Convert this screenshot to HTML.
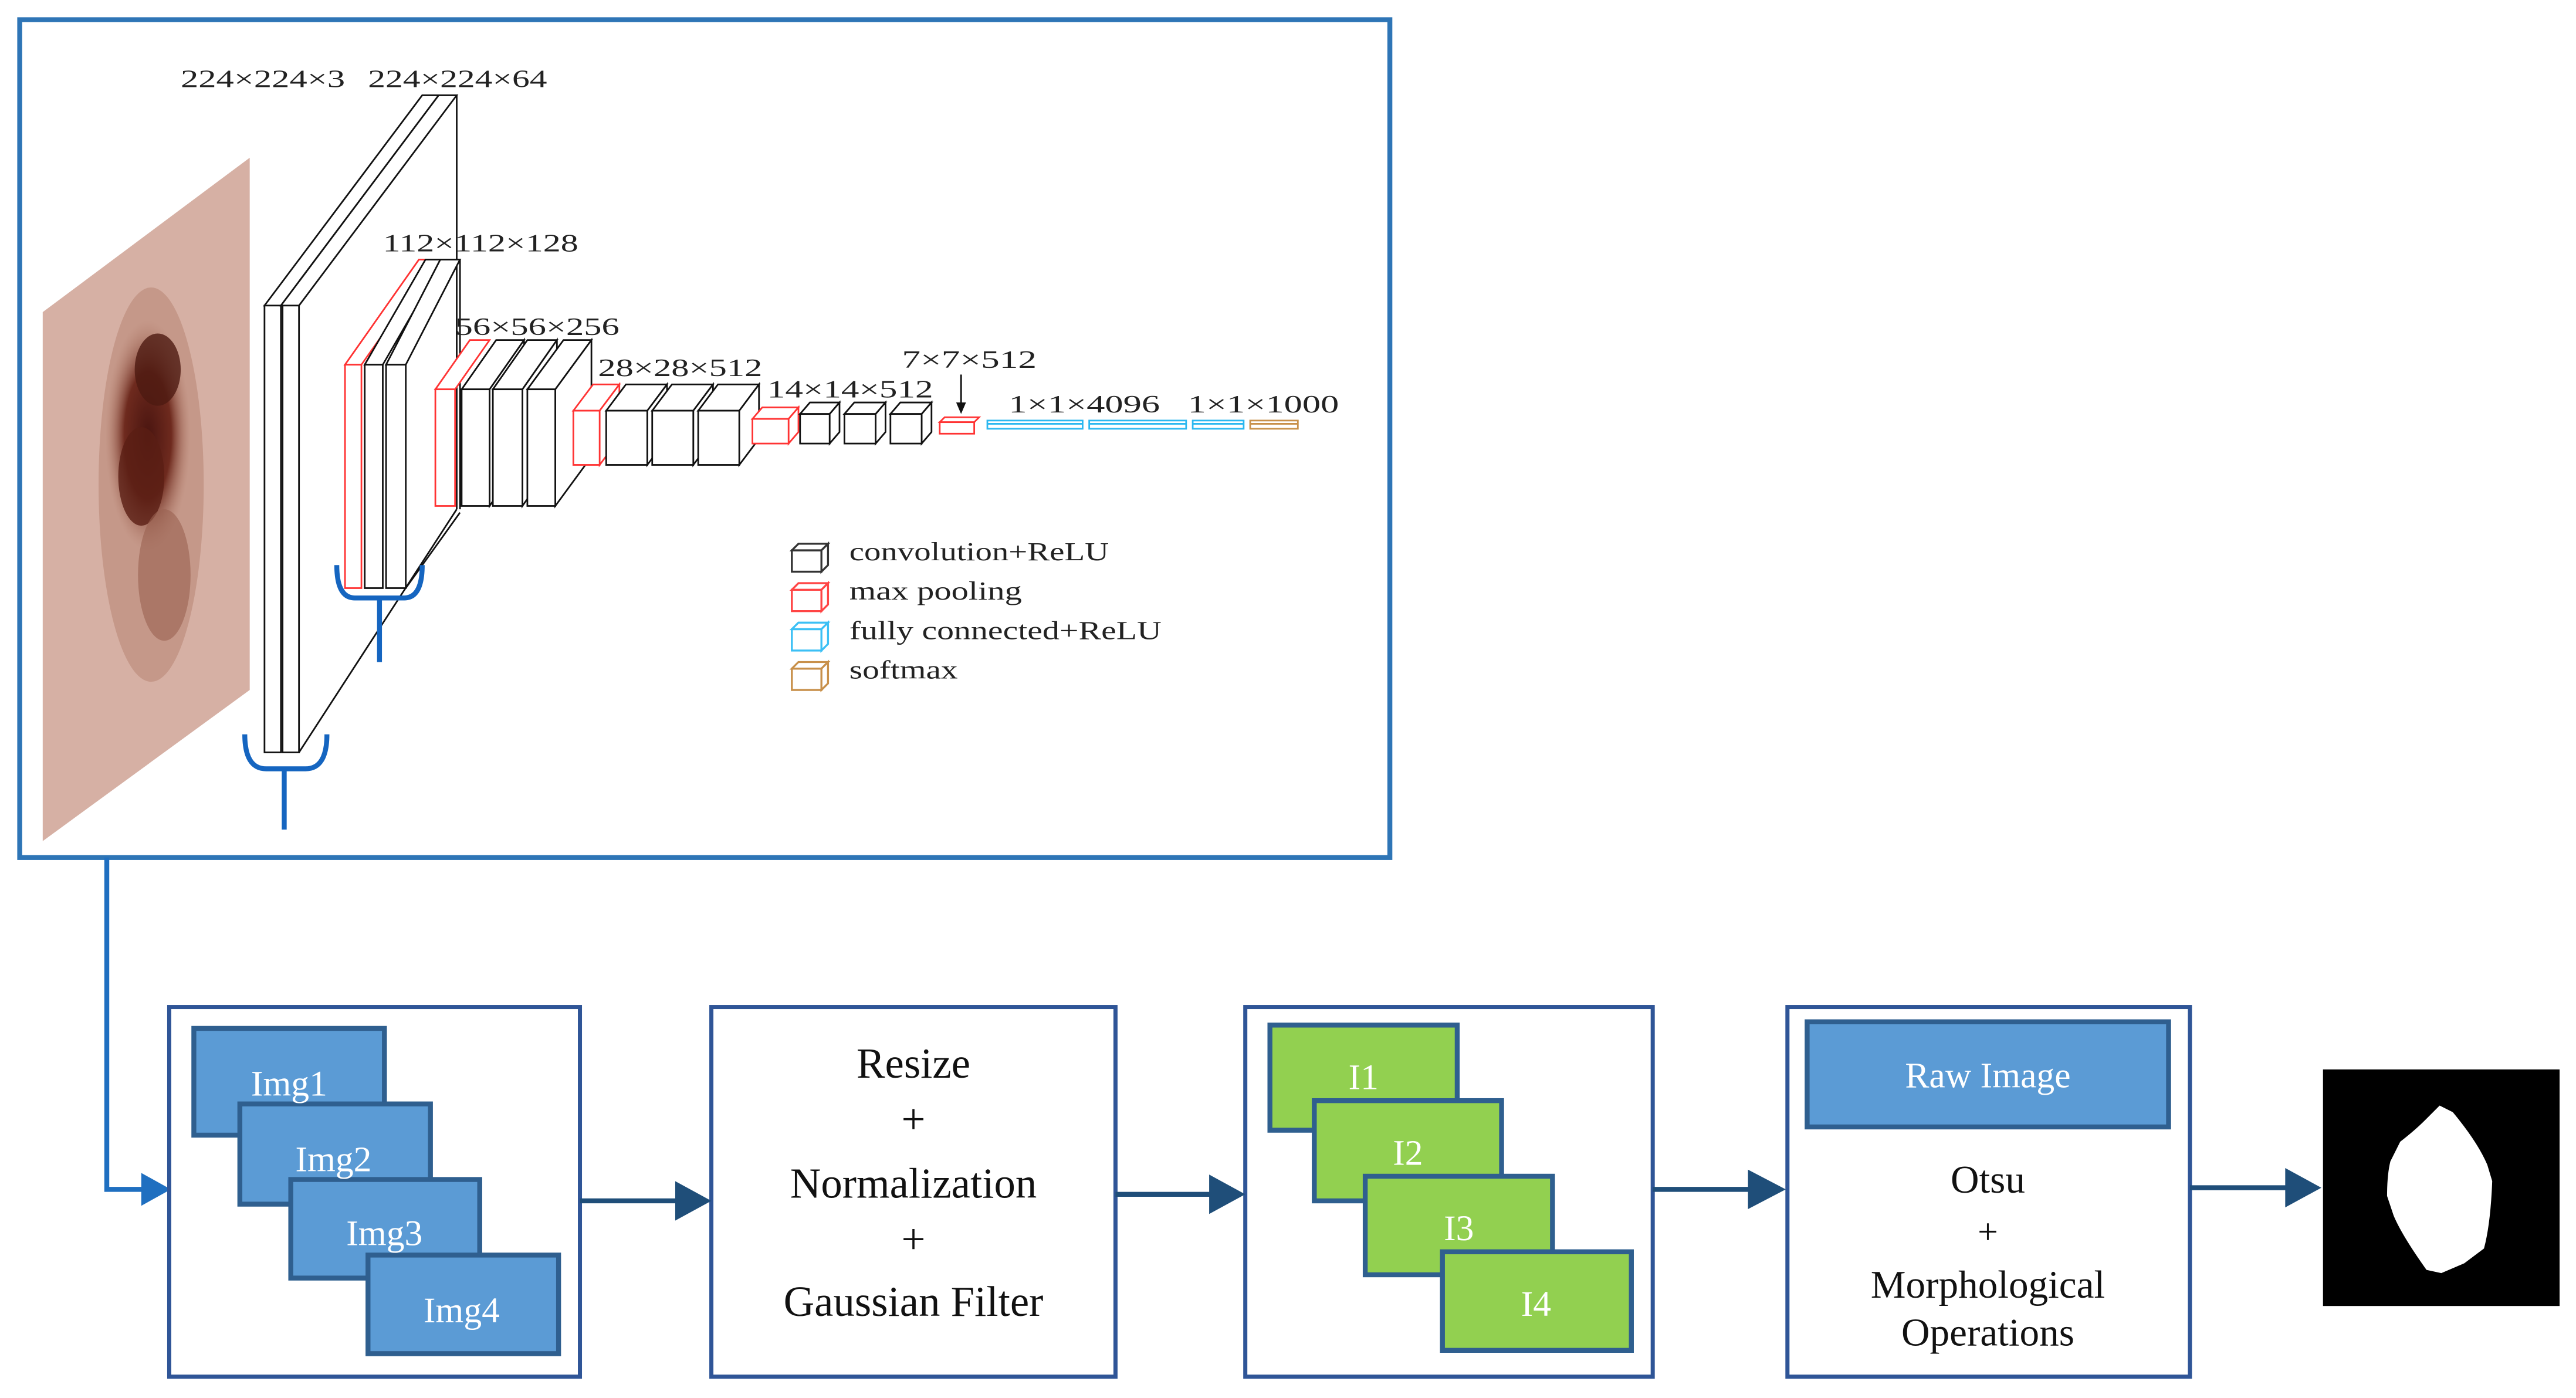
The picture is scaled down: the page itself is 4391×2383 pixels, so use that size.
<!DOCTYPE html>
<html><head><meta charset="utf-8"><style>
html,body{margin:0;padding:0;background:#fff;}
svg{display:block;}
.t{font-family:"Liberation Serif",serif;fill:#222;}
.w{font-family:"Liberation Serif",serif;fill:#fff;}
.b{font-family:"Liberation Serif",serif;fill:#111;}
</style></head><body>
<svg width="4391" height="2383" viewBox="0 0 1568 851" preserveAspectRatio="none" xmlns="http://www.w3.org/2000/svg">
<rect x="0" y="0" width="1568" height="851" fill="#fff"/>
<rect x="12" y="12" width="834" height="510" fill="#fff" stroke="#2E75B6" stroke-width="3"/>
<defs>
<radialGradient id="les" cx="0.5" cy="0.5" r="0.5">
<stop offset="0" stop-color="#4a1510"/><stop offset="0.55" stop-color="#6e2a1e"/><stop offset="1" stop-color="#b07a68" stop-opacity="0"/>
</radialGradient>
<clipPath id="sk"><polygon points="26,190 152,96 152,420 26,512"/></clipPath>
</defs>
<polygon points="26,190 152,96 152,420 26,512" fill="#d6b0a4"/>
<g clip-path="url(#sk)">
<ellipse cx="92" cy="295" rx="32" ry="120" fill="#b88573" opacity="0.55"/>
<ellipse cx="90" cy="265" rx="26" ry="70" fill="url(#les)"/>
<ellipse cx="96" cy="225" rx="14" ry="22" fill="#4e1a12" opacity="0.8"/>
<ellipse cx="86" cy="290" rx="14" ry="30" fill="#5a1e14" opacity="0.8"/>
<ellipse cx="100" cy="350" rx="16" ry="40" fill="#9a6050" opacity="0.6"/>
</g>
<g fill="none" stroke-width="1">
<g stroke="#111">
<polygon points="161,186 171,186 267,58 257,58" fill="#fff"/>
<rect x="161" y="186" width="10" height="272" fill="#fff"/>
<polygon points="171,186 182,186 278,58 267,58" fill="#fff"/>
<rect x="172" y="186" width="10" height="272" fill="#fff"/>
<line x1="278" y1="58" x2="278" y2="310"/>
<line x1="182" y1="458" x2="278" y2="310"/>
</g>
<g stroke="#111">
<line x1="280" y1="158" x2="280" y2="310"/>
<line x1="247" y1="358" x2="280" y2="312"/>
</g>
<polygon points="210,222 220,222 265,158 255,158" stroke="#f33" fill="#fff"/>
<rect x="210" y="222" width="10" height="136" stroke="#f33" fill="#fff"/>
<g stroke="#111">
<polygon points="222,222 233,222 270,158 259,158" fill="#fff"/>
<rect x="222" y="222" width="11" height="136" fill="#fff"/>
<polygon points="235,222 247,222 280,158 268,158" fill="#fff"/>
<rect x="235" y="222" width="12" height="136" fill="#fff"/>
</g>
<polygon points="265,237 277,237 298,207 286,207" stroke="#f33" fill="#fff"/>
<rect x="265" y="237" width="12" height="71" stroke="#f33" fill="#fff"/>
<g stroke="#111" fill="#fff">
<polygon points="281,237 298,237 319,207 302,207"/><polygon points="298,237 319,207 319,278 298,308"/><rect x="281" y="237" width="17" height="71"/>
<polygon points="300,237 318,237 339,207 321,207"/><polygon points="318,237 339,207 339,278 318,308"/><rect x="300" y="237" width="18" height="71"/>
<polygon points="321,237 338,237 360,207 343,207"/><polygon points="338,237 360,207 360,278 338,308"/><rect x="321" y="237" width="17" height="71"/>
</g>
<polygon points="349,250 365,250 377,234 361,234" stroke="#f33" fill="#fff"/>
<polygon points="365,250 377,234 377,267 365,283" stroke="#f33" fill="#fff"/>
<rect x="349" y="250" width="16" height="33" stroke="#f33" fill="#fff"/>
<g stroke="#111" fill="#fff">
<polygon points="369,250 394,250 406,234 381,234"/><polygon points="394,250 406,234 406,267 394,283"/><rect x="369" y="250" width="25" height="33"/>
<polygon points="397,250 422,250 434,234 409,234"/><polygon points="422,250 434,234 434,267 422,283"/><rect x="397" y="250" width="25" height="33"/>
<polygon points="425,250 450,250 462,234 437,234"/><polygon points="450,250 462,234 462,267 450,283"/><rect x="425" y="250" width="25" height="33"/>
</g>
<polygon points="458,255 480,255 486,248 464,248" stroke="#f33" fill="#fff"/>
<polygon points="480,255 486,248 486,263 480,270" stroke="#f33" fill="#fff"/>
<rect x="458" y="255" width="22" height="15" stroke="#f33" fill="#fff"/>
<g stroke="#111" fill="#fff">
<polygon points="487,252 505,252 511,245 493,245"/><polygon points="505,252 511,245 511,263 505,270"/><rect x="487" y="252" width="18" height="18"/>
<polygon points="514,252 533,252 539,245 520,245"/><polygon points="533,252 539,245 539,263 533,270"/><rect x="514" y="252" width="19" height="18"/>
<polygon points="542,252 561,252 567,245 548,245"/><polygon points="561,252 567,245 567,263 561,270"/><rect x="542" y="252" width="19" height="18"/>
</g>
<polygon points="572,257 593,257 596,254 575,254" stroke="#f33" fill="#fff"/>
<rect x="572" y="257" width="21" height="7" stroke="#f33" fill="#fff"/>
<g stroke="#2bb8f0" fill="#fff">
<rect x="601" y="256" width="58" height="5"/><line x1="601" y1="258" x2="659" y2="258"/>
<rect x="663" y="256" width="59" height="5"/><line x1="663" y1="258" x2="722" y2="258"/>
<rect x="726" y="256" width="31" height="5"/><line x1="726" y1="258" x2="757" y2="258"/>
</g>
<rect x="761" y="256" width="29" height="5" stroke="#c8904a" fill="#fff"/><line x1="761" y1="258" x2="790" y2="258" stroke="#c8904a"/>
<line x1="585" y1="228" x2="585" y2="248" stroke="#111"/>
</g>
<polygon points="582,245 588,245 585,252" fill="#111"/>
<g class="t" font-size="15" lengthAdjust="spacingAndGlyphs">
<text x="110" y="53" textLength="100" lengthAdjust="spacingAndGlyphs">224×224×3</text>
<text x="224" y="53" textLength="109" lengthAdjust="spacingAndGlyphs">224×224×64</text>
<text x="233" y="153" textLength="119" lengthAdjust="spacingAndGlyphs">112×112×128</text>
<text x="277" y="204" textLength="100" lengthAdjust="spacingAndGlyphs">56×56×256</text>
<text x="364" y="229" textLength="100" lengthAdjust="spacingAndGlyphs">28×28×512</text>
<text x="467" y="242" textLength="101" lengthAdjust="spacingAndGlyphs">14×14×512</text>
<text x="549" y="224" textLength="82" lengthAdjust="spacingAndGlyphs">7×7×512</text>
<text x="614" y="251" textLength="92" lengthAdjust="spacingAndGlyphs">1×1×4096</text>
<text x="723" y="251" textLength="92" lengthAdjust="spacingAndGlyphs">1×1×1000</text>
</g>
<g fill="#fff" stroke-width="1.2">
<g stroke="#333"><rect x="482" y="335" width="18" height="13"/><polygon points="482,335 486,331 504,331 500,335"/><polygon points="500,335 504,331 504,344 500,348"/></g>
<g stroke="#f44"><rect x="482" y="359" width="18" height="13"/><polygon points="482,359 486,355 504,355 500,359"/><polygon points="500,359 504,355 504,368 500,372"/></g>
<g stroke="#3cc0f5"><rect x="482" y="383" width="18" height="13"/><polygon points="482,383 486,379 504,379 500,383"/><polygon points="500,383 504,379 504,392 500,396"/></g>
<g stroke="#c8904a"><rect x="482" y="407" width="18" height="13"/><polygon points="482,407 486,403 504,403 500,407"/><polygon points="500,407 504,403 504,416 500,420"/></g>
</g>
<g class="t" font-size="16">
<text x="517" y="341" textLength="158" lengthAdjust="spacingAndGlyphs">convolution+ReLU</text>
<text x="517" y="365" textLength="105" lengthAdjust="spacingAndGlyphs">max  pooling</text>
<text x="517" y="389" textLength="190" lengthAdjust="spacingAndGlyphs">fully  connected+ReLU</text>
<text x="517" y="413" textLength="66" lengthAdjust="spacingAndGlyphs">softmax</text>
</g>
<g fill="none" stroke="#1565C0" stroke-width="3">
<path d="M149,447 Q149,468 162,468 L186,468 Q199,468 199,447"/>
<line x1="173" y1="468" x2="173" y2="505"/>
<path d="M205,344 Q205,364 216,364 L246,364 Q257,364 257,344"/>
<line x1="231" y1="364" x2="231" y2="403"/>
</g>
<polyline points="65,522 65,724 92,724" fill="none" stroke="#1F6FC0" stroke-width="3"/>
<polygon points="86,714 104,724 86,734" fill="#1F6FC0"/>
<g fill="#fff" stroke="#2F5597" stroke-width="2.5">
<rect x="103" y="613" width="250" height="225"/>
<rect x="433" y="613" width="246" height="225"/>
<rect x="758" y="613" width="248" height="225"/>
<rect x="1088" y="613" width="245" height="225"/>
</g>
<g stroke="#2F5F8F" stroke-width="3">
<rect x="118" y="626" width="116" height="65" fill="#5B9BD5"/>
<rect x="146" y="672" width="116" height="61" fill="#5B9BD5"/>
<rect x="177" y="718" width="115" height="60" fill="#5B9BD5"/>
<rect x="224" y="764" width="116" height="60" fill="#5B9BD5"/>
<rect x="773" y="624" width="114" height="64" fill="#92D050"/>
<rect x="800" y="670" width="114" height="61" fill="#92D050"/>
<rect x="831" y="716" width="114" height="60" fill="#92D050"/>
<rect x="878" y="762" width="115" height="60" fill="#92D050"/>
<rect x="1100" y="622" width="220" height="64" fill="#5B9BD5"/>
</g>
<g class="w" font-size="22" text-anchor="middle">
<text x="176" y="667">Img1</text>
<text x="203" y="713">Img2</text>
<text x="234" y="758">Img3</text>
<text x="281" y="805">Img4</text>
<text x="830" y="663">I1</text>
<text x="857" y="709">I2</text>
<text x="888" y="755">I3</text>
<text x="935" y="801">I4</text>
<text x="1210" y="662">Raw Image</text>
</g>
<g class="b" font-size="26" text-anchor="middle">
<text x="556" y="656">Resize</text>
<text x="556" y="690">+</text>
<text x="556" y="729">Normalization</text>
<text x="556" y="763">+</text>
<text x="556" y="801">Gaussian Filter</text>
<text x="1210" y="726" font-size="24">Otsu</text>
<text x="1210" y="757" font-size="22">+</text>
<text x="1210" y="790" font-size="24">Morphological</text>
<text x="1210" y="819" font-size="24">Operations</text>
</g>
<g stroke="#1F4E79" stroke-width="3">
<line x1="353" y1="731" x2="415" y2="731"/>
<line x1="679" y1="727" x2="740" y2="727"/>
<line x1="1006" y1="724" x2="1068" y2="724"/>
<line x1="1333" y1="723" x2="1395" y2="723"/>
</g>
<g fill="#1F4E79">
<polygon points="411,719 433,731 411,743"/>
<polygon points="736,715 758,727 736,739"/>
<polygon points="1064,712 1087,724 1064,736"/>
<polygon points="1391,711 1413,723 1391,735"/>
</g>
<rect x="1414" y="651" width="144" height="144" fill="#000"/>
<path d="M1485,673 L1493,677 Q1508,695 1514,709 L1517,719 Q1516,745 1512,760 L1500,769 L1486,775 L1477,773 Q1462,752 1457,740 L1453,728 Q1453,715 1455,707 L1461,695 Q1470,688 1476,682 Z" fill="#fff"/>
</svg>
</body></html>
